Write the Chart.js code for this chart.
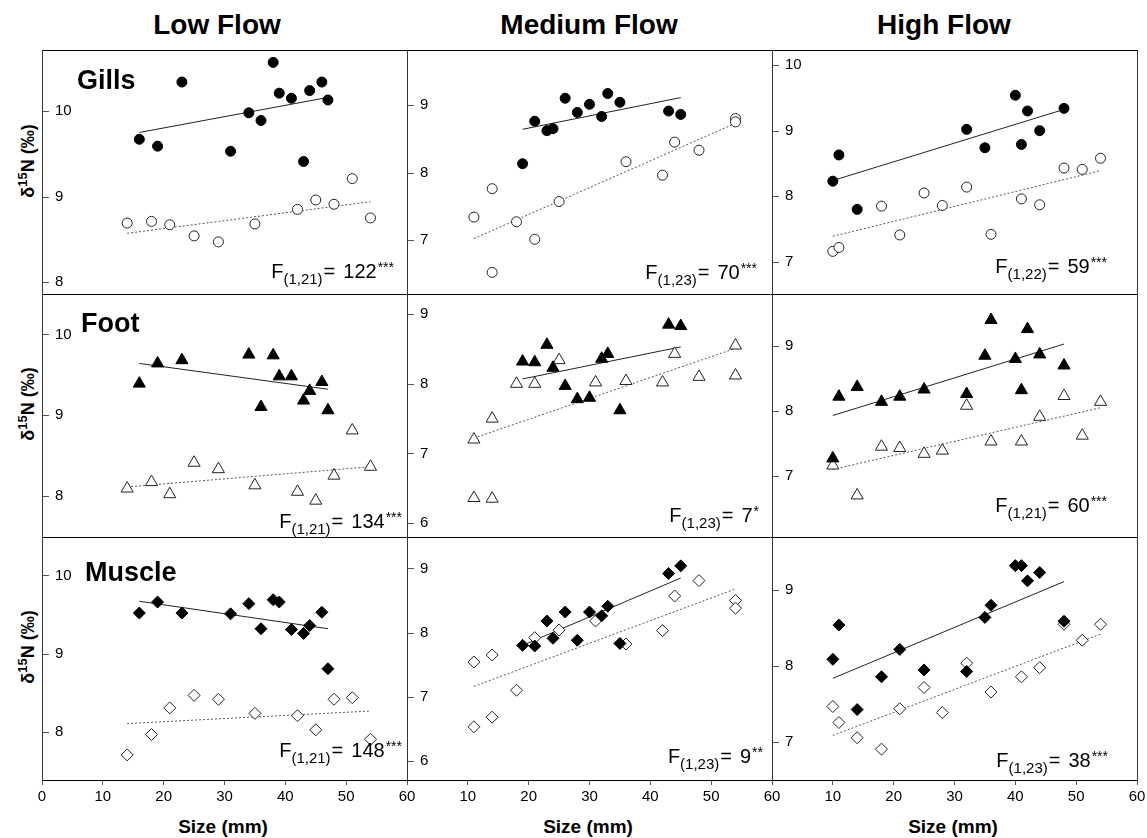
<!DOCTYPE html>
<html>
<head>
<meta charset="utf-8">
<script src="https://cdn.jsdelivr.net/npm/chart.js@4.4.0/dist/chart.umd.min.js"></script>
<style>
  html, body { margin: 0; padding: 0; background: #fff; overflow: hidden; }
  body { width: 1147px; height: 838px; position: relative; font-family: "Liberation Sans", Arial, sans-serif; color: #000; }
  canvas { position: absolute; }
  .colTitle { position: absolute; top: 11px; font-weight: bold; font-size: 28px; line-height: 1; white-space: nowrap; transform: translateX(-50%); }
  .xTitle { position: absolute; top: 817px; font-weight: bold; font-size: 19px; line-height: 1; white-space: nowrap; transform: translateX(-50%); }
  .yTitle { position: absolute; left: 26px; font-weight: bold; font-size: 18px; line-height: 1; white-space: nowrap; transform: translate(-50%, -50%) rotate(-90deg); }
  .yTitle sup { font-size: 13px; }
</style>
</head>
<body>
<div class="colTitle" style="left:217px">Low Flow</div>
<div class="colTitle" style="left:589px">Medium Flow</div>
<div class="colTitle" style="left:944px">High Flow</div>
<div class="xTitle" style="left:223px">Size (mm)</div>
<div class="xTitle" style="left:588px">Size (mm)</div>
<div class="xTitle" style="left:953px">Size (mm)</div>
<div class="yTitle" style="top:161px">δ<sup>15</sup>N (‰)</div>
<div class="yTitle" style="top:404px">δ<sup>15</sup>N (‰)</div>
<div class="yTitle" style="top:647px">δ<sup>15</sup>N (‰)</div>

<script>
// --- data: [size (mm), d15N (permil)] ---
const gillsLowSolid = [[16,9.67],[19,9.59],[23,10.34],[31,9.53],[34,9.98],[36,9.89],[38,10.57],[39,10.21],[41,10.15],[43,9.41],[44,10.24],[46,10.34],[47,10.13]];
const gillsLowOpen = [[14,8.69],[18,8.71],[21,8.67],[25,8.54],[29,8.47],[35,8.68],[42,8.85],[45,8.96],[48,8.91],[51,9.21],[54,8.75]];
const gillsLowSolidFit = [[16,9.75],[47,10.16]];
const gillsLowOpenFit = [[14,8.57],[54,8.94]];

const gillsMedSolid = [[19,8.13],[21,8.76],[23,8.62],[24,8.65],[26,9.10],[28,8.89],[30,9.01],[32,8.83],[33,9.17],[35,9.04],[43,8.91],[45,8.86]];
const gillsMedOpen = [[11,7.34],[14,7.76],[14,6.52],[18,7.27],[21,7.01],[25,7.57],[36,8.16],[42,7.96],[44,8.45],[48,8.33],[54,8.80],[54,8.75]];
const gillsMedSolidFit = [[19,8.64],[45,9.11]];
const gillsMedOpenFit = [[11,7.02],[54,8.73]];

const gillsHighSolid = [[10,8.23],[11,8.63],[14,7.80],[32,9.02],[35,8.74],[40,9.54],[41,8.79],[42,9.30],[44,9.00],[48,9.34]];
const gillsHighOpen = [[10,7.16],[11,7.22],[18,7.85],[21,7.41],[25,8.05],[28,7.86],[32,8.14],[36,7.42],[41,7.96],[44,7.87],[48,8.43],[51,8.41],[54,8.58]];
const gillsHighSolidFit = [[10,8.24],[47.5,9.31]];
const gillsHighOpenFit = [[10,7.39],[54,8.39]];

const footLowSolid = [[16,9.39],[19,9.64],[23,9.68],[34,9.75],[36,9.10],[38,9.74],[39,9.48],[41,9.48],[43,9.18],[44,9.30],[46,9.41],[47,9.06]];
const footLowOpen = [[14,8.09],[18,8.17],[21,8.02],[25,8.41],[29,8.33],[35,8.13],[42,8.05],[45,7.94],[48,8.25],[51,8.81],[54,8.36]];
const footLowSolidFit = [[16,9.64],[47,9.32]];
const footLowOpenFit = [[14,8.11],[54,8.36]];

const footMedSolid = [[19,8.32],[21,8.31],[23,8.56],[24,8.23],[26,7.97],[28,7.78],[30,7.80],[32,8.36],[33,8.43],[35,7.62],[43,8.85],[45,8.83]];
const footMedOpen = [[11,7.20],[11,6.36],[14,7.50],[14,6.35],[18,8.00],[21,8.00],[25,8.34],[31,8.02],[36,8.04],[42,8.02],[44,8.43],[48,8.10],[54,8.55],[54,8.12]];
const footMedSolidFit = [[19,8.07],[45,8.53]];
const footMedOpenFit = [[11,7.22],[54,8.51]];

const footHighSolid = [[10,7.27],[11,8.22],[14,8.37],[18,8.14],[21,8.22],[25,8.33],[32,8.26],[35,8.85],[36,9.40],[40,8.80],[41,8.32],[42,9.26],[44,8.87],[48,8.70]];
const footHighOpen = [[10,7.16],[14,6.70],[18,7.45],[21,7.43],[25,7.34],[28,7.39],[32,8.08],[36,7.53],[41,7.53],[44,7.91],[48,8.23],[51,7.62],[54,8.14]];
const footHighSolidFit = [[10,7.93],[48,9.03]];
const footHighOpenFit = [[10,7.10],[54,8.05]];

const muscleLowSolid = [[16,9.52],[19,9.66],[23,9.52],[31,9.51],[34,9.64],[36,9.32],[38,9.69],[39,9.66],[41,9.31],[43,9.26],[44,9.36],[46,9.53],[47,8.81]];
const muscleLowOpen = [[14,7.71],[18,7.97],[21,8.31],[25,8.47],[29,8.42],[35,8.24],[42,8.21],[45,8.03],[48,8.42],[51,8.44],[54,7.91]];
const muscleLowSolidFit = [[16,9.67],[47,9.32]];
const muscleLowOpenFit = [[14,8.11],[54,8.27]];

const muscleMedSolid = [[19,7.80],[21,7.79],[23,8.18],[24,7.91],[26,8.32],[28,7.88],[30,8.32],[32,8.26],[33,8.41],[35,7.83],[43,8.92],[45,9.04]];
const muscleMedOpen = [[11,7.54],[11,6.53],[14,7.65],[14,6.68],[18,7.10],[21,7.92],[25,8.04],[31,8.18],[36,7.82],[42,8.03],[44,8.57],[48,8.81],[54,8.50],[54,8.38]];
const muscleMedSolidFit = [[19,7.80],[45,8.85]];
const muscleMedOpenFit = [[11,7.16],[54,8.68]];

const muscleHighSolid = [[10,8.09],[11,8.54],[14,7.43],[18,7.86],[21,8.22],[25,7.95],[32,7.93],[35,8.64],[36,8.80],[40,9.32],[41,9.32],[42,9.12],[44,9.23],[48,8.59]];
const muscleHighOpen = [[10,7.47],[11,7.26],[14,7.06],[18,6.91],[21,7.44],[25,7.72],[28,7.39],[32,8.04],[36,7.66],[41,7.86],[44,7.98],[48,8.55],[51,8.34],[54,8.55]];
const muscleHighSolidFit = [[10,7.84],[48,9.11]];
const muscleHighOpenFit = [[10,7.09],[54,8.42]];

// axis ranges (y min/max per panel, row by row)
const sizeRange = [0, 60];
const yRanges = [[7.86,10.715],[6.2,9.815],[6.51,10.23],
                 [7.49,10.5],[5.8,9.29],[6.06,9.8],
                 [7.39,10.49],[5.7,9.49],[6.505,9.696]];
// statistics text
const statSub = ['(1,21)','(1,23)','(1,22)','(1,21)','(1,23)','(1,21)','(1,21)','(1,23)','(1,23)'];
const statVal = ['122','70','59','134','7','60','148','9','38'];
const statStars = ['***','***','***','***','*','***','***','**','***'];
const tissues = ['Gills', 'Foot', 'Muscle'];

// --- layout ---
const colLeft = [42, 407, 772];
const colW = 365;
const rowTop = [50, 294, 537];
const rowH = [244, 243, 243];
const PAD = 30, AXIS_H = 40;
const FONT = '"Liberation Sans", Arial, sans-serif';
const statPos = [[-13,-16],[-15,-15],[-30,-21],[-5,-9],[-13,-15],[-30,-25],[-5,-23],[-9,-17],[-29,-13]];
const tissuePos = [[35,39],[39,38],[43,44]];
const shapes = [['circle',5],['triangle',7],['rectRot',6]];

Chart.defaults.font.family = FONT;

const panelData = [
  [gillsLowSolid, gillsLowOpen, gillsLowSolidFit, gillsLowOpenFit],
  [gillsMedSolid, gillsMedOpen, gillsMedSolidFit, gillsMedOpenFit],
  [gillsHighSolid, gillsHighOpen, gillsHighSolidFit, gillsHighOpenFit],
  [footLowSolid, footLowOpen, footLowSolidFit, footLowOpenFit],
  [footMedSolid, footMedOpen, footMedSolidFit, footMedOpenFit],
  [footHighSolid, footHighOpen, footHighSolidFit, footHighOpenFit],
  [muscleLowSolid, muscleLowOpen, muscleLowSolidFit, muscleLowOpenFit],
  [muscleMedSolid, muscleMedOpen, muscleMedSolidFit, muscleMedOpenFit],
  [muscleHighSolid, muscleHighOpen, muscleHighSolidFit, muscleHighOpenFit]
];

const toXY = arr => arr.map(([x, y]) => ({x, y}));

function drawStat(ctx, xr, yb, sub, val, stars) {
  const big = '20px ' + FONT, small = '15px ' + FONT, tiny = '14px ' + FONT;
  ctx.font = big;
  const wF = ctx.measureText('F').width, wEq = ctx.measureText('=').width, wV = ctx.measureText(val).width;
  ctx.font = small;
  const wS = ctx.measureText(sub).width;
  ctx.font = tiny;
  const wT = ctx.measureText(stars).width;
  const gap = 8;
  let x = xr - (wF + wS + 1 + wEq + gap + wV + 1 + wT);
  ctx.fillStyle = '#000';
  ctx.textAlign = 'left';
  ctx.textBaseline = 'alphabetic';
  ctx.font = big; ctx.fillText('F', x, yb); x += wF;
  ctx.font = small; ctx.fillText(sub, x, yb + 6); x += wS + 1;
  ctx.font = big; ctx.fillText('=', x, yb); x += wEq + gap;
  ctx.fillText(val, x, yb); x += wV + 1;
  ctx.font = tiny; ctx.fillText(stars, x, yb - 6);
}

function makePanel(i) {
  const row = Math.floor(i / 3), col = i % 3;
  const bottomRow = row === 2;
  const [solid, open, solidFit, openFit] = panelData[i];
  const [shape, radius] = shapes[row];

  const canvas = document.createElement('canvas');
  canvas.width = colW + 2 * PAD;
  canvas.height = rowH[row] + PAD + (bottomRow ? AXIS_H : PAD);
  canvas.style.left = (colLeft[col] - PAD) + 'px';
  canvas.style.top = (rowTop[row] - PAD) + 'px';
  document.body.appendChild(canvas);

  const panelDecor = {
    id: 'panelDecor',
    afterDraw(chart) {
      const {ctx, chartArea: a, scales: {y}} = chart;
      ctx.save();
      ctx.lineWidth = 1;
      // frame
      ctx.strokeStyle = '#000';
      ctx.beginPath();
      ctx.moveTo(a.left, a.top + 0.5); ctx.lineTo(a.right + 1, a.top + 0.5);
      if (bottomRow) { ctx.moveTo(a.left, a.bottom + 0.5); ctx.lineTo(a.right + 1, a.bottom + 0.5); }
      ctx.stroke();
      ctx.strokeStyle = '#333';
      ctx.beginPath();
      ctx.moveTo(a.left + 0.5, a.top); ctx.lineTo(a.left + 0.5, a.bottom + 1);
      if (col === 2) { ctx.moveTo(a.right + 0.5, a.top); ctx.lineTo(a.right + 0.5, a.bottom + 1); }
      ctx.stroke();
      // inward y tick marks
      ctx.strokeStyle = '#555';
      ctx.beginPath();
      y.ticks.forEach(t => {
        const py = Math.round(y.getPixelForValue(t.value)) + 0.5;
        ctx.moveTo(a.left + 1, py); ctx.lineTo(a.left + 7, py);
      });
      ctx.stroke();
      // tissue label
      if (col === 0) {
        ctx.fillStyle = '#000';
        ctx.font = 'bold 27px ' + FONT;
        ctx.textAlign = 'left';
        ctx.textBaseline = 'alphabetic';
        ctx.fillText(tissues[row], a.left + tissuePos[row][0], a.top + tissuePos[row][1]);
      }
      drawStat(ctx, a.right + statPos[i][0], a.bottom + statPos[i][1], statSub[i], statVal[i], statStars[i]);
      ctx.restore();
    }
  };

  new Chart(canvas, {
    type: 'scatter',
    data: {
      datasets: [
        { data: toXY(solid), pointStyle: shape, pointRadius: radius, backgroundColor: '#000', borderColor: '#000', borderWidth: 1, order: 0 },
        { data: toXY(open), pointStyle: shape, pointRadius: radius, backgroundColor: '#fff', borderColor: '#222', borderWidth: 1, order: 1 },
        { data: toXY(solidFit), showLine: true, pointRadius: 0, borderColor: '#222', borderWidth: 1, order: 2 },
        { data: toXY(openFit), showLine: true, pointRadius: 0, borderColor: '#555', borderWidth: 1, borderDash: [2, 2], order: 3 }
      ]
    },
    options: {
      animation: false,
      responsive: false,
      devicePixelRatio: 1,
      events: [],
      layout: { padding: { left: PAD, right: PAD, top: PAD, bottom: bottomRow ? 0 : PAD } },
      plugins: { legend: { display: false }, tooltip: { enabled: false } },
      scales: {
        x: {
          type: 'linear',
          min: sizeRange[0], max: sizeRange[1],
          display: bottomRow,
          afterFit: s => { s.height = bottomRow ? AXIS_H : 0; },
          ticks: {
            stepSize: 10, includeBounds: false, maxRotation: 0, padding: 3,
            color: '#000', font: { size: 15 },
            callback: v => (col > 0 && v === 0) ? null : v
          },
          grid: { drawOnChartArea: false, drawTicks: true, tickLength: 5, color: '#555' },
          border: { display: false }
        },
        y: {
          type: 'linear',
          min: yRanges[i][0], max: yRanges[i][1],
          afterFit: s => { s.width = 0; },
          ticks: { stepSize: 1, includeBounds: false, mirror: true, padding: 13, color: '#000', font: { size: 15 } },
          grid: { drawOnChartArea: false, drawTicks: false },
          border: { display: false }
        }
      }
    },
    plugins: [panelDecor]
  });
}

for (let i = 0; i < 9; i++) makePanel(i);
</script>
</body>
</html>
